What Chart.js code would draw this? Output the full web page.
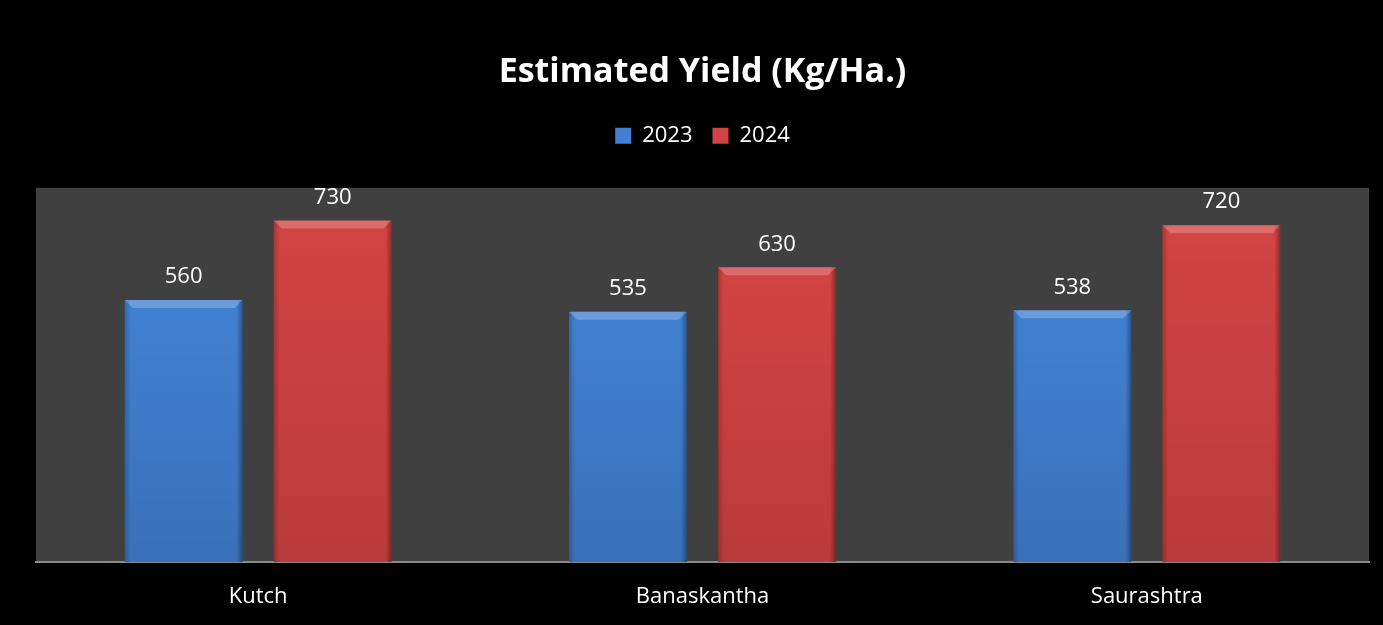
<!DOCTYPE html>
<html lang="en">
<head>
    <meta charset="UTF-8">
    <title>Estimated Yield</title>
    <script src="https://cdn.jsdelivr.net/npm/chart.js@4.4.1/dist/chart.umd.min.js"></script>
    <style>
        html, body {
            margin: 0;
            padding: 0;
            background: #000000;
        }
        #chart-container {
            width: 1383px;
            height: 625px;
        }
    </style>
</head>
<body>
    <div id="chart-container">
        <canvas id="yield-chart"></canvas>
    </div>

    <script>
        // chart data
        const regions = ['Kutch', 'Banaskantha', 'Saurashtra'];
        const yield2023 = [560, 535, 538];
        const yield2024 = [730, 630, 720];
        const seriesNames = ['2023', '2024'];

        const fontFamily = "'Open Sans', 'Noto Sans', sans-serif";

        // gray plot area + black page behind it
        const plotBackground = {
            id: 'plotBackground',
            beforeDraw(chart) {
                const { ctx, chartArea } = chart;
                ctx.save();
                ctx.fillStyle = '#000000';
                ctx.fillRect(0, 0, chart.width, chart.height);
                ctx.fillStyle = '#404040';
                ctx.fillRect(chartArea.left, chartArea.top, chartArea.right - chartArea.left, chartArea.bottom - chartArea.top);
                ctx.restore();
            }
        };

        // extra room under the legend
        const legendGap = {
            id: 'legendGap',
            beforeInit(chart) {
                const origFit = chart.legend.fit;
                chart.legend.fit = function () {
                    origFit.bind(chart.legend)();
                    this.height += 31;
                };
            }
        };

        // bevel look on each bar, then value labels above
        const bevelAndLabels = {
            id: 'bevelAndLabels',
            afterDatasetsDraw(chart) {
                const ctx = chart.ctx;
                chart.data.datasets.forEach((ds, i) => {
                    const meta = chart.getDatasetMeta(i);
                    meta.data.forEach((bar, j) => {
                        const left = bar.x - bar.width / 2;
                        const right = bar.x + bar.width / 2;
                        const top = bar.y;
                        const bottom = bar.base;
                        const b = 8;
                        ctx.save();
                        // side shading
                        const g = ctx.createLinearGradient(left, 0, right, 0);
                        g.addColorStop(0, 'rgba(0,0,0,0.2)');
                        g.addColorStop(0.05, 'rgba(0,0,0,0.0)');
                        g.addColorStop(0.95, 'rgba(0,0,0,0.0)');
                        g.addColorStop(1, 'rgba(0,0,0,0.35)');
                        ctx.fillStyle = g;
                        ctx.fillRect(left, top, right - left, bottom - top);
                        // bottom darkening
                        const gb = ctx.createLinearGradient(0, top, 0, bottom);
                        gb.addColorStop(0, 'rgba(0,0,0,0)');
                        gb.addColorStop(1, 'rgba(0,0,0,0.12)');
                        ctx.fillStyle = gb;
                        ctx.fillRect(left, top, right - left, bottom - top);
                        // top bevel
                        ctx.beginPath();
                        ctx.moveTo(left, top);
                        ctx.lineTo(right, top);
                        ctx.lineTo(right - b, top + b);
                        ctx.lineTo(left + b, top + b);
                        ctx.closePath();
                        ctx.fillStyle = 'rgba(255,255,255,0.22)';
                        ctx.fill();
                        // value label
                        ctx.fillStyle = '#ffffff';
                        ctx.font = "22px " + fontFamily;
                        ctx.textAlign = 'center';
                        ctx.textBaseline = 'middle';
                        ctx.fillText(ds.data[j], bar.x, top - 23);
                        ctx.restore();
                    });
                });
            }
        };

        const ctx = document.getElementById('yield-chart').getContext('2d');
        const yieldChart = new Chart(ctx, {
            type: 'bar',
            data: {
                labels: regions,
                datasets: [{
                    label: seriesNames[0],
                    data: yield2023,
                    backgroundColor: '#4180d2',
                    borderWidth: 0
                }, {
                    label: seriesNames[1],
                    data: yield2024,
                    backgroundColor: '#d34343',
                    borderWidth: 0
                }]
            },
            options: {
                responsive: true,
                maintainAspectRatio: false,
                animation: false,
                categoryPercentage: 0.671,
                barPercentage: 0.79,
                layout: {
                    padding: { left: 36, right: 14, top: 0, bottom: 0 }
                },
                plugins: {
                    title: {
                        display: true,
                        text: 'Estimated Yield (Kg/Ha.)',
                        color: '#ffffff',
                        font: { family: fontFamily, size: 34, weight: 'bold' },
                        padding: { top: 52, bottom: 12 }
                    },
                    legend: {
                        display: true,
                        labels: {
                            color: '#ffffff',
                            boxWidth: 16,
                            boxHeight: 16,
                            padding: 20,
                            font: { family: fontFamily, size: 22 }
                        }
                    },
                    tooltip: { enabled: false }
                },
                scales: {
                    x: {
                        grid: { display: false, drawTicks: false },
                        border: { display: true, color: '#8a8a8a', width: 2 },
                        ticks: {
                            color: '#ffffff',
                            padding: 22,
                            font: { family: fontFamily, size: 22 }
                        },
                        afterFit(scale) {
                            scale.height = 63;
                        }
                    },
                    y: {
                        display: false,
                        min: 0,
                        max: 800
                    }
                }
            },
            plugins: [plotBackground, legendGap, bevelAndLabels]
        });
    </script>
</body>
</html>
